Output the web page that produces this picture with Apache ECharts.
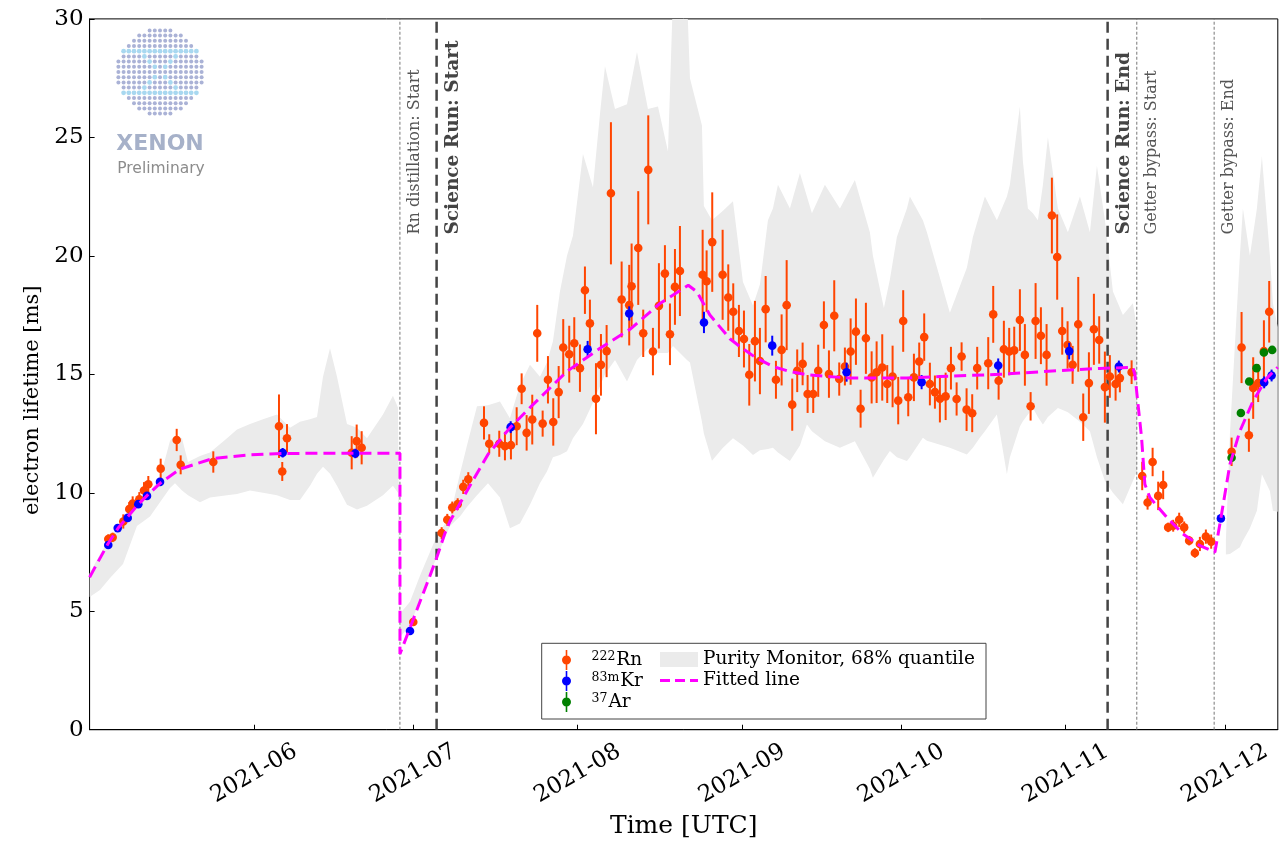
<!DOCTYPE html>
<html>
<head>
<meta charset="utf-8">
<script src="https://cdn.jsdelivr.net/npm/echarts@6/dist/echarts.min.js"></script>
<style>
  html, body { margin: 0; padding: 0; background: #fff; }
  #chart { width: 1283px; height: 844px; }
</style>
</head>
<body>
<div id="chart"></div>
<script>
// Time range of the plot and the month tick labels
const START = '2021-05-01';
const END = '2021-12-11';
const monthLabels = ['2021-06', '2021-07', '2021-08', '2021-09', '2021-10', '2021-11', '2021-12'];

// Electron lifetime measurements: [days since START, lifetime (ms), 1-sigma error (ms)]
const rn222 = [
  [3.52, 8.05, 0.2], [4.35, 8.12, 0.2], [6.35, 8.79, 0.3], [7.48, 9.31, 0.3], [8.12, 9.55, 0.3],
  [9.37, 9.73, 0.3], [10.25, 10.10, 0.35], [11.07, 10.36, 0.35], [13.40, 11.02, 0.42],
  [16.42, 12.23, 0.47], [17.17, 11.18, 0.4], [23.32, 11.30, 0.45], [35.70, 12.81, 1.34],
  [36.32, 10.90, 0.4], [37.21, 12.30, 0.6], [49.41, 11.69, 0.7], [50.35, 12.18, 0.7], [51.29, 11.90, 0.7],
  [61.02, 4.55, 0.15], [66.37, 8.30, 0.25], [67.43, 8.86, 0.25], [68.37, 9.38, 0.25], [69.39, 9.52, 0.25],
  [70.44, 10.25, 0.3], [71.39, 10.57, 0.3], [74.35, 12.95, 0.7], [75.34, 12.07, 0.4], [77.23, 12.07, 0.55],
  [78.30, 11.97, 0.6], [79.43, 12.01, 0.6], [80.51, 12.81, 0.8], [81.45, 14.39, 0.65], [82.39, 12.53, 0.75],
  [83.45, 13.09, 1.05], [84.39, 16.73, 1.2], [85.41, 12.92, 0.55], [86.41, 14.77, 1.0], [87.41, 12.99, 1.0],
  [88.43, 14.25, 1.1], [89.29, 16.13, 1.2], [90.42, 15.85, 1.2], [91.37, 16.31, 1.1], [92.44, 15.26, 1.0],
  [93.38, 18.55, 1.0], [94.32, 17.15, 1.0], [95.46, 13.97, 1.5], [96.40, 15.40, 1.3], [97.47, 15.98, 1.1],
  [98.28, 22.64, 3.0], [100.30, 18.16, 1.6], [101.73, 17.92, 1.7], [102.18, 18.72, 1.8], [103.43, 20.33, 2.4],
  [104.37, 16.73, 1.0], [105.32, 23.63, 2.3], [106.20, 15.96, 1.0], [107.33, 17.89, 1.8], [108.46, 19.25, 1.2],
  [109.41, 16.69, 1.3], [110.35, 18.69, 1.6], [111.29, 19.36, 1.9], [115.57, 19.20, 1.9], [116.32, 18.93, 1.3],
  [117.38, 20.58, 2.1], [119.34, 19.20, 1.9], [120.40, 18.24, 1.4], [121.34, 17.64, 1.2], [122.41, 16.83, 1.1],
  [123.36, 16.49, 1.2], [124.36, 14.98, 1.3], [125.43, 16.40, 1.7], [126.37, 15.56, 1.4], [127.45, 17.75, 1.4],
  [129.39, 14.77, 0.8], [130.46, 16.03, 1.5], [131.41, 17.92, 1.9], [132.46, 13.72, 1.1], [133.40, 15.15, 0.9],
  [134.42, 15.44, 0.9], [135.36, 14.17, 0.8], [136.42, 14.17, 0.8], [137.36, 15.15, 1.1], [138.43, 17.08, 1.0],
  [139.38, 15.01, 1.0], [140.38, 17.47, 1.5], [141.32, 14.80, 0.7], [142.39, 15.33, 0.8], [143.47, 15.96, 1.4],
  [144.47, 16.80, 1.4], [145.35, 13.55, 0.8], [146.35, 16.52, 1.5], [147.43, 14.87, 1.1], [148.37, 15.09, 1.3],
  [149.43, 15.29, 1.4], [150.37, 14.59, 0.8], [151.38, 14.91, 1.3], [152.44, 13.89, 1.0], [153.38, 17.25, 1.3],
  [154.33, 14.03, 0.8], [155.40, 14.87, 1.0], [156.40, 15.54, 0.8], [157.34, 16.57, 1.0], [158.41, 14.59, 0.9],
  [159.36, 14.25, 0.7], [160.30, 13.97, 1.0], [161.38, 14.07, 1.0], [162.38, 15.26, 0.9], [163.45, 13.96, 0.7],
  [164.39, 15.75, 0.6], [165.33, 13.51, 0.9], [166.39, 13.36, 0.8], [167.33, 15.26, 0.9], [169.41, 15.47, 1.1],
  [170.35, 17.53, 1.2], [171.37, 14.73, 0.8], [172.36, 16.06, 1.2], [173.36, 15.96, 1.0], [174.31, 16.01, 1.0],
  [175.38, 17.29, 1.3], [176.32, 15.82, 1.3], [177.40, 13.65, 0.6], [178.34, 17.25, 1.6], [179.34, 16.63, 1.2],
  [180.41, 15.82, 1.3], [181.41, 21.70, 1.6], [182.41, 19.95, 1.8], [183.36, 16.83, 1.0], [184.37, 16.24, 1.0],
  [185.32, 15.40, 0.8], [186.38, 17.11, 2.0], [187.32, 13.19, 1.0], [188.39, 14.63, 1.3], [189.33, 16.90, 1.5],
  [190.33, 16.45, 1.0], [191.40, 14.46, 1.5], [192.34, 14.91, 0.9], [193.42, 14.59, 0.7], [194.23, 14.84, 0.6],
  [196.44, 15.09, 0.5],
  [198.44, 10.71, 0.6], [199.45, 9.59, 0.3], [200.40, 11.30, 0.6], [201.45, 9.87, 0.6], [202.39, 10.33, 0.6],
  [203.33, 8.54, 0.2], [204.28, 8.61, 0.25], [205.41, 8.86, 0.3], [206.35, 8.54, 0.25], [207.29, 7.98, 0.2],
  [208.37, 7.46, 0.2], [209.31, 7.84, 0.3], [210.44, 8.15, 0.3], [211.44, 7.94, 0.3],
  [215.29, 11.73, 0.6], [217.17, 16.13, 1.5], [218.55, 12.43, 0.7], [219.36, 14.42, 1.3], [220.30, 14.63, 0.8],
  [221.38, 15.98, 1.3], [222.38, 17.64, 1.3]
];

const kr83m = [
  [3.52, 7.80, 0.15], [5.30, 8.51, 0.15], [7.18, 8.94, 0.15], [9.18, 9.52, 0.15], [10.82, 9.87, 0.15],
  [13.27, 10.46, 0.15], [36.40, 11.69, 0.2], [50.09, 11.66, 0.2], [60.40, 4.17, 0.1], [79.38, 12.77, 0.25],
  [93.89, 16.06, 0.35], [101.73, 17.57, 0.3], [115.82, 17.19, 0.45], [128.69, 16.21, 0.42], [142.71, 15.09, 0.4],
  [156.85, 14.67, 0.3], [171.29, 15.37, 0.3], [184.67, 15.98, 0.35], [194.04, 15.33, 0.25], [213.27, 8.92, 0.15],
  [221.43, 14.66, 0.25], [222.83, 14.95, 0.25]
];

const ar37 = [
  [215.29, 11.48, 0.1], [217.04, 13.37, 0.1], [218.61, 14.70, 0.1], [220.00, 15.26, 0.1],
  [221.38, 15.92, 0.1], [222.94, 16.03, 0.1]
];

// Fitted lifetime model: [days since START, lifetime (ms)]
const fitLine = [
  [0, 6.44], [3.47, 7.85], [5.35, 8.5], [7.24, 9.0], [9.12, 9.5], [10.82, 9.88], [13.27, 10.4], [17.04, 11.0],
  [23.26, 11.45], [30.24, 11.6], [36.46, 11.66], [45.32, 11.67], [58.51, 11.67], [58.51, 3.2], [60.40, 4.3],
  [62.28, 5.4], [64.17, 6.5], [65.49, 7.3], [67.00, 8.3], [67.94, 8.8], [71.14, 10.08], [75.10, 11.62],
  [79.24, 12.74], [83.58, 13.72], [89.98, 15.12], [96.22, 16.1], [101.87, 16.9], [107.53, 17.99], [112.86, 18.76],
  [114.49, 18.48], [116.94, 17.5], [120.71, 16.5], [122.60, 16.17], [125.61, 15.7], [128.82, 15.33],
  [132.02, 15.12], [135.23, 14.98], [143.33, 14.84], [154.08, 14.84], [160.30, 14.91], [171.61, 15.0],
  [182.36, 15.15], [190.46, 15.25], [196.68, 15.29], [197.06, 14.98], [198.32, 12.32], [198.94, 10.36],
  [199.89, 9.8], [203.09, 8.96], [206.11, 8.26], [209.31, 7.77], [212.14, 7.49], [213.08, 8.68], [214.97, 11.2],
  [216.85, 12.6], [219.30, 13.86], [221.94, 14.84], [223.98, 15.3]
];

// Purity monitor 68% quantile band: [days since START, lower (ms), upper (ms)]; null = no monitor data
const purityBand = [
  [0, 5.6, 6.6], [1.96, 5.9, 7.4], [3.85, 6.4, 8.1], [6.30, 7.0, 8.8], [8.93, 8.6, 9.6], [11.39, 9.0, 10.1],
  [13.27, 9.6, 10.6], [15.16, 10.2, 12.2], [16.10, 10.4, 12.4], [17.42, 10.1, 12.3], [18.55, 9.9, 11.3],
  [20.81, 9.6, 11.55], [22.70, 9.8, 11.7], [25.90, 9.9, 12.3], [27.79, 9.95, 12.67], [30.24, 10.1, 12.9],
  [32.69, 10.0, 13.1], [35.33, 9.9, 13.3], [37.78, 9.7, 12.75], [39.66, 9.7, 13.0], [41.55, 10.3, 13.1],
  [42.87, 10.8, 13.2], [44.00, 11.1, 14.9], [45.32, 10.8, 16.1], [46.64, 10.3, 14.9], [48.52, 9.5, 12.9],
  [50.41, 9.3, 12.75], [52.29, 9.45, 12.3], [55.31, 9.9, 13.3], [57.19, 10.3, 14.1], [58.13, 10.0, 13.6],
  [58.51, 3.9, 4.9], [60.40, 4.4, 5.4], [62.28, 5.5, 6.5], [64.17, 6.6, 7.5], [65.49, 7.3, 8.2],
  [67.94, 8.6, 9.0], [69.82, 9.0, 10.8], [71.14, 9.4, 12.0], [73.03, 9.9, 13.65], [75.10, 10.4, 13.7],
  [77.36, 9.8, 13.85], [79.24, 8.5, 13.15], [81.13, 8.7, 14.55], [83.02, 9.5, 15.4], [84.90, 10.4, 14.9],
  [86.22, 10.9, 15.5], [87.35, 11.5, 16.4], [88.67, 11.6, 18.5], [90.00, 11.75, 20.0], [91.12, 12.3, 20.85],
  [93.01, 12.9, 24.3], [94.89, 13.8, 22.9], [96.22, 14.5, 26.0], [97.16, 15.0, 28.0], [99.05, 15.6, 26.2],
  [101.31, 14.7, 26.4], [103.19, 15.6, 28.6], [105.26, 16.1, 26.2], [107.15, 15.9, 26.3], [109.04, 15.9, 24.4],
  [109.98, 16.2, 31], [112.62, 15.6, 31], [113.18, 15.5, 27.5], [115.44, 13.0, 25.5], [115.80, 12.5, 22.1],
  [117.33, 11.35, 21.5], [119.40, 11.9, 21.9], [121.29, 12.3, 22.3], [123.17, 12.0, 18.9], [125.06, 11.6, 17.9],
  [126.38, 11.8, 18.8], [127.88, 11.85, 21.5], [128.82, 11.9, 22.0], [129.77, 11.7, 23.0], [132.02, 11.34, 22.0],
  [133.91, 12.0, 23.5], [135.23, 12.88, 22.5], [136.17, 12.6, 21.8], [138.62, 12.18, 23.0], [141.45, 11.9, 22.0],
  [144.27, 12.18, 23.2], [147.10, 11.0, 21.0], [147.67, 10.64, 20.0], [149.74, 11.4, 17.8], [150.87, 11.76, 19.0],
  [152.19, 11.5, 20.8], [154.08, 11.34, 22.0], [154.64, 11.5, 22.5], [157.09, 12.32, 21.5], [157.85, 12.2, 21.0],
  [162.18, 11.9, 17.6], [165.38, 11.62, 19.5], [166.52, 11.9, 20.8], [167.83, 12.32, 21.8], [168.78, 12.6, 22.5],
  [171.04, 13.3, 21.5], [172.93, 10.78, 22.5], [173.49, 11.5, 23.0], [175.38, 12.8, 26.3], [175.94, 13.02, 24.0],
  [176.89, 13.3, 22.0], [177.83, 13.58, 21.8], [178.77, 13.2, 21.5], [179.72, 12.88, 23.0], [180.66, 13.2, 25.0],
  [182.55, 13.58, 22.0], [184.43, 13.4, 21.0], [186.70, 13.0, 22.5], [188.58, 12.6, 21.0], [189.90, 11.5, 23.8],
  [191.41, 10.5, 21.5], [192.92, 10.0, 18.5], [194.80, 9.52, 17.5], [196.68, 10.5, 18.0], [197.43, 10.9, 17.0],
  null,
  [214.21, 7.4, 8.0], [214.97, 7.42, 12.46], [216.85, 7.7, 20.0], [217.42, 7.98, 22.0], [218.74, 8.5, 20.0],
  [220.06, 9.24, 22.0], [221.00, 10.78, 24.2], [222.51, 10.08, 20.0], [223.08, 9.24, 18.0], [223.98, 9.2, 17.0]
];

// Run-condition changes marked on the time axis
const events = [
  { date: '2021-06-28 12:00', text: 'Rn distillation: Start', major: false },
  { date: '2021-07-05 10:00', text: 'Science Run: Start', major: true },
  { date: '2021-11-08 22:00', text: 'Science Run: End', major: true },
  { date: '2021-11-14 10:00', text: 'Getter bypass: Start', major: false },
  { date: '2021-11-29 00:00', text: 'Getter bypass: End', major: false }
];

// ---- helpers ----
const DAY = 86400000;
const utc = s => Date.parse((s.length === 10 ? s + 'T00:00' : s.replace(' ', 'T')) + ':00Z');
const T0 = utc(START);
const atDay = d => T0 + d * DAY;
const monthTicks = monthLabels.map(m => utc(m + '-01'));

const SERIF = '"DejaVu Serif", serif';
const RN_COLOR = '#ff4500';
const KR_COLOR = '#0000ff';
const AR_COLOR = '#008000';
const BAND_COLOR = '#ebebeb';
const FIT_COLOR = '#ff00ff';
const EVENT_LABEL_Y = 20.9;

// legend glyphs: vertical error bar with a dot, and a dashed line
const ERR_ICON = 'path://M4.2,0 L5.8,0 L5.8,20 L4.2,20 Z ' +
  'M0.5,10 C0.5,7.515 2.515,5.5 5,5.5 C7.485,5.5 9.5,7.515 9.5,10 C9.5,12.485 7.485,14.5 5,14.5 C2.515,14.5 0.5,12.485 0.5,10 Z';
const DASH_ICON = 'path://M0,0 L10,0 L10,3 L0,3 Z M15,0 L25,0 L25,3 L15,3 Z M30,0 L38,0 L38,3 L30,3 Z';

function errorBarSeries(name, rows, color) {
  return {
    name: name,
    type: 'custom',
    silent: true,
    itemStyle: { color: color },
    data: rows.map(r => [atDay(r[0]), r[1], r[2]]),
    encode: { x: 0, y: 1 },
    renderItem: function (params, api) {
      const t = api.value(0), v = api.value(1), e = api.value(2);
      const c = api.coord([t, v]);
      const lo = api.coord([t, v - e]);
      const hi = api.coord([t, v + e]);
      return {
        type: 'group',
        children: [
          { type: 'line', shape: { x1: c[0], y1: lo[1], x2: c[0], y2: hi[1] },
            style: { stroke: color, lineWidth: 2 } },
          { type: 'circle', shape: { cx: c[0], cy: c[1], r: 4.3 }, style: { fill: color } }
        ]
      };
    }
  };
}

// split the band into runs of contiguous monitor data
const bandRuns = [];
let run = [];
purityBand.forEach(p => {
  if (p === null) { if (run.length) bandRuns.push(run); run = []; }
  else run.push(p);
});
if (run.length) bandRuns.push(run);
const runStarts = [];
let acc = 0;
bandRuns.forEach(r => { runStarts.push(acc); acc += r.length; });

// one filled polygon per run: upper edge forward, lower edge back
const bandSeries = {
  name: 'Purity Monitor, 68% quantile', type: 'custom', silent: true, clip: true,
  itemStyle: { color: BAND_COLOR },
  data: purityBand.filter(p => p !== null).map(p => [atDay(p[0]), p[1], p[2]]),
  encode: { x: 0, y: [1, 2] },
  renderItem: function (params, api) {
    const k = runStarts.indexOf(params.dataIndex);
    if (k < 0) return null;
    const pts = bandRuns[k];
    const upper = pts.map(p => api.coord([atDay(p[0]), p[2]]));
    const lower = pts.map(p => api.coord([atDay(p[0]), p[1]])).reverse();
    return { type: 'polygon', shape: { points: upper.concat(lower) }, style: { fill: BAND_COLOR } };
  }
};

const eventSeries = {
  name: 'events', type: 'custom', silent: true,
  data: events.map(e => [utc(e.date), 0]),
  encode: { x: 0, y: 1 },
  renderItem: function (params, api) {
    const ev = events[params.dataIndex];
    const t = api.value(0);
    const bottom = api.coord([t, 0]);
    const top = api.coord([t, 30]);
    const anchor = api.coord([t, EVENT_LABEL_Y]);
    return {
      type: 'group',
      children: [
        { type: 'line', shape: { x1: bottom[0], y1: bottom[1], x2: top[0], y2: top[1] },
          style: ev.major
            ? { stroke: '#444', lineWidth: 2.5, lineDash: [11, 6] }
            : { stroke: '#777', lineWidth: 1, lineDash: [3, 2] } },
        { type: 'text', x: anchor[0] + 7, y: anchor[1], rotation: Math.PI / 2,
          style: { text: ev.text, x: 0, y: 0, align: 'left', verticalAlign: 'top',
                   fill: ev.major ? '#444' : '#555',
                   font: ev.major ? 'bold 18.5px ' + SERIF : '16px ' + SERIF } }
      ]
    };
  }
};

// ---- logo ----
function buildLogo() {
  const items = [];
  const cx = 160, cy = 72, step = 5.2, R = 44;
  for (let j = -9; j <= 9; j++) {
    for (let i = -9; i <= 9; i++) {
      const dx = i * step, dy = j * step;
      if (Math.hypot(dx, dy) > R) continue;
      const bar = (j === -4 || j === 4) && Math.abs(i) <= 7;
      const cross = Math.abs(j) < 4 && Math.abs(i) > 0 && (i === j || i === -j);
      const light = bar || cross;
      items.push({
        type: 'circle', shape: { cx: cx + dx, cy: cy + dy, r: light ? 2.4 : 2.0 },
        style: { fill: light ? '#a8d8f0' : '#aab2d6' }, silent: true
      });
    }
  }
  items.push({ type: 'text', x: 160, y: 144, silent: true,
    style: { text: 'XENON', font: 'bold 22px "DejaVu Sans", sans-serif', fill: '#a6b1c9',
             align: 'center', verticalAlign: 'middle' } });
  items.push({ type: 'text', x: 161, y: 169, silent: true,
    style: { text: 'Preliminary', font: '15.5px "DejaVu Sans", sans-serif', fill: '#8c8c8c',
             align: 'center', verticalAlign: 'middle' } });
  return items;
}

const supNames = {
  '222Rn': '{sup|222}{el|Rn}',
  '83mKr': '{sup|83m}{el|Kr}',
  '37Ar': '{sup|37}{el|Ar}'
};
const legendText = {
  fontFamily: SERIF, fontSize: 18.5, color: '#000',
  rich: {
    sup: { fontFamily: SERIF, fontSize: 12.5, color: '#000', verticalAlign: 'top', padding: [0, 1, 0, 0] },
    el: { fontFamily: SERIF, fontSize: 18.5, color: '#000' }
  }
};

const pad2 = n => String(n).padStart(2, '0');
const monthOf = v => { const d = new Date(v); return d.getUTCFullYear() + '-' + pad2(d.getUTCMonth() + 1); };

const chart = echarts.init(document.getElementById('chart'), null, { renderer: 'canvas' });
chart.setOption({
  animation: false,
  backgroundColor: '#fff',
  grid: { left: 89.6, right: 5.2, top: 18.9, bottom: 110.7, show: true, borderColor: '#000', borderWidth: 1,
          containLabel: false },
  xAxis: {
    type: 'value', min: T0, max: utc(END), scale: true,
    axisLine: { lineStyle: { color: '#000', width: 1 } },
    axisTick: { inside: true, length: 5, lineStyle: { color: '#000' }, customValues: monthTicks },
    axisLabel: {
      customValues: monthTicks,
      formatter: v => monthOf(v),
      rotate: 30, align: 'center', verticalAlign: 'middle', margin: 44,
      fontFamily: SERIF, fontSize: 23, color: '#000'
    },
    splitLine: { show: false },
    name: 'Time [UTC]', nameLocation: 'middle', nameGap: 82,
    nameTextStyle: { fontFamily: SERIF, fontSize: 25, color: '#000', verticalAlign: 'top' }
  },
  yAxis: {
    type: 'value', min: 0, max: 30, interval: 5,
    axisLine: { show: true, lineStyle: { color: '#000', width: 1 } },
    axisTick: { show: true, inside: true, length: 5, lineStyle: { color: '#000' } },
    axisLabel: { fontFamily: SERIF, fontSize: 23, color: '#000', margin: 6 },
    splitLine: { show: false },
    name: 'electron lifetime [ms]', nameLocation: 'middle', nameGap: 40, nameRotate: 90,
    nameTextStyle: { fontFamily: SERIF, fontSize: 21, color: '#000', verticalAlign: 'bottom',
                     padding: [0, 52, 0, 0] }
  },
  legend: [
    {
      left: 557, top: 645, orient: 'vertical', itemWidth: 40, itemHeight: 20, itemGap: 1,
      selectedMode: false, z: 5,
      data: [
        { name: '222Rn', icon: ERR_ICON, itemStyle: { color: RN_COLOR } },
        { name: '83mKr', icon: ERR_ICON, itemStyle: { color: KR_COLOR } },
        { name: '37Ar', icon: ERR_ICON, itemStyle: { color: AR_COLOR } }
      ],
      formatter: n => supNames[n] || n,
      textStyle: legendText
    },
    {
      left: 655, top: 645, orient: 'vertical', itemWidth: 38, itemHeight: 15, itemGap: 2,
      selectedMode: false, z: 5,
      data: [
        { name: 'Purity Monitor, 68% quantile', icon: 'rect', itemStyle: { color: BAND_COLOR } },
        { name: 'Fitted line', icon: DASH_ICON, itemStyle: { color: FIT_COLOR } }
      ],
      textStyle: legendText
    }
  ],
  graphic: {
    elements: [
      { type: 'rect', z: 3, silent: true, shape: { x: 541.7, y: 643.3, width: 444.3, height: 75.7 },
        style: { fill: '#fff', stroke: '#444', lineWidth: 1 } },
      { type: 'group', z: 1, silent: true, children: buildLogo() }
    ]
  },
  series: [
    bandSeries,
    eventSeries,
    {
      name: 'Fitted line', type: 'line', symbol: 'none', silent: true, color: FIT_COLOR,
      lineStyle: { color: FIT_COLOR, width: 3, type: [12, 6] },
      data: fitLine.map(p => [atDay(p[0]), p[1]])
    },
    errorBarSeries('222Rn', rn222, RN_COLOR),
    errorBarSeries('83mKr', kr83m, KR_COLOR),
    errorBarSeries('37Ar', ar37, AR_COLOR)
  ]
});
</script>
</body>
</html>
